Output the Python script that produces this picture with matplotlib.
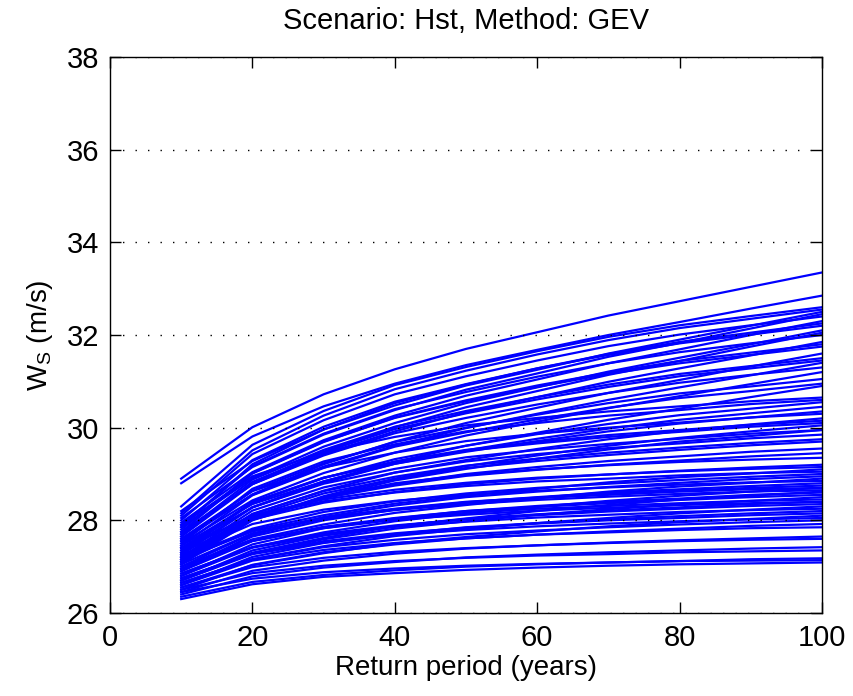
import matplotlib
matplotlib.use('Agg')
import matplotlib.pyplot as plt

plt.rcParams['font.family'] = ['Liberation Sans', 'DejaVu Sans']

return_periods = [10, 20, 30, 40, 50, 60, 70, 80, 90, 100]

# upper bundle of return level curves (end above ~30.9 m/s)
upper_curves = [
    [28.90, 30.01, 30.72, 31.26, 31.70, 32.06, 32.42, 32.73, 33.04, 33.35],
    [28.80, 29.81, 30.46, 30.95, 31.35, 31.68, 32.00, 32.28, 32.57, 32.85],
    [28.30, 29.63, 30.36, 30.92, 31.31, 31.65, 31.96, 32.21, 32.41, 32.60],
    [28.20, 29.28, 29.96, 30.48, 30.91, 31.25, 31.60, 31.90, 32.20, 32.50],
    [28.10, 29.43, 30.16, 30.72, 31.11, 31.45, 31.76, 32.01, 32.21, 32.40],
    [27.95, 29.04, 29.73, 30.26, 30.69, 31.04, 31.39, 31.69, 32.00, 32.30],
    [28.00, 29.30, 30.02, 30.56, 30.94, 31.28, 31.57, 31.82, 32.01, 32.20],
    [27.85, 28.91, 29.59, 30.10, 30.53, 30.87, 31.21, 31.51, 31.80, 32.10],
    [27.90, 29.17, 29.87, 30.40, 30.77, 31.10, 31.39, 31.63, 31.82, 32.00],
    [27.75, 28.78, 29.43, 29.92, 30.33, 30.66, 30.99, 31.28, 31.56, 31.85],
    [27.80, 29.02, 29.70, 30.21, 30.57, 30.88, 31.16, 31.39, 31.57, 31.75],
    [27.70, 28.88, 29.52, 30.02, 30.36, 30.66, 30.93, 31.16, 31.33, 31.50],
    [27.60, 28.55, 29.16, 29.61, 29.99, 30.30, 30.60, 30.87, 31.13, 31.40],
    [27.65, 28.78, 29.40, 29.88, 30.21, 30.50, 30.75, 30.97, 31.14, 31.30],
    [27.50, 28.43, 29.02, 29.46, 29.83, 30.13, 30.42, 30.68, 30.94, 31.20],
    [27.55, 28.64, 29.23, 29.69, 30.00, 30.28, 30.53, 30.74, 30.89, 31.05],
    [27.45, 28.54, 29.13, 29.59, 29.90, 30.18, 30.43, 30.64, 30.79, 30.95],
    [28.05, 29.15, 29.85, 30.38, 30.82, 31.17, 31.53, 31.83, 32.14, 32.45],
    [27.85, 29.21, 29.96, 30.53, 30.93, 31.28, 31.59, 31.85, 32.05, 32.25],
    [27.70, 28.79, 29.48, 30.01, 30.44, 30.79, 31.14, 31.44, 31.75, 32.05],
    [27.75, 29.01, 29.69, 30.22, 30.59, 30.91, 31.19, 31.44, 31.62, 31.80],
    [27.55, 28.56, 29.21, 29.70, 30.10, 30.43, 30.75, 31.03, 31.32, 31.60],
    [27.65, 28.83, 29.47, 29.97, 30.31, 30.61, 30.88, 31.11, 31.28, 31.45],
    [27.40, 28.28, 28.84, 29.26, 29.61, 29.89, 30.17, 30.41, 30.66, 30.90],
    [28.15, 29.51, 30.26, 30.83, 31.23, 31.58, 31.89, 32.15, 32.35, 32.55],
]

# middle bundle (end between ~29.3 and ~30.7 m/s)
middle_curves = [
    [27.90, 28.95, 29.47, 29.80, 30.05, 30.21, 30.35, 30.46, 30.57, 30.65],
    [27.40, 28.38, 28.91, 29.32, 29.61, 29.86, 30.08, 30.27, 30.41, 30.55],
    [27.30, 28.28, 28.81, 29.22, 29.51, 29.76, 29.98, 30.17, 30.31, 30.45],
    [27.60, 28.63, 29.14, 29.46, 29.71, 29.87, 30.00, 30.11, 30.22, 30.30],
    [27.20, 28.13, 28.64, 29.03, 29.30, 29.54, 29.75, 29.93, 30.07, 30.20],
    [27.35, 28.40, 28.92, 29.25, 29.50, 29.66, 29.80, 29.91, 30.02, 30.10],
    [27.10, 28.01, 28.52, 28.90, 29.17, 29.40, 29.61, 29.78, 29.92, 30.05],
    [27.25, 28.28, 28.79, 29.11, 29.36, 29.52, 29.65, 29.76, 29.87, 29.95],
    [27.20, 28.21, 28.71, 29.03, 29.27, 29.43, 29.56, 29.66, 29.77, 29.85],
    [27.15, 28.14, 28.63, 28.94, 29.18, 29.33, 29.46, 29.57, 29.67, 29.75],
    [27.10, 28.09, 28.58, 28.89, 29.13, 29.28, 29.41, 29.52, 29.62, 29.70],
    [27.05, 28.00, 28.48, 28.78, 29.00, 29.15, 29.28, 29.38, 29.48, 29.55],
    [27.20, 28.06, 28.48, 28.75, 28.96, 29.09, 29.20, 29.29, 29.38, 29.45],
    [27.05, 28.05, 28.50, 28.80, 28.98, 29.10, 29.19, 29.26, 29.31, 29.35],
    [27.45, 28.35, 28.84, 29.22, 29.48, 29.71, 29.92, 30.09, 30.22, 30.35],
    [27.50, 28.68, 29.27, 29.64, 29.92, 30.10, 30.26, 30.38, 30.51, 30.60],
    [27.15, 28.02, 28.49, 28.86, 29.11, 29.33, 29.53, 29.70, 29.82, 29.95],
    [27.30, 28.38, 28.92, 29.27, 29.52, 29.69, 29.84, 29.95, 30.06, 30.15],
]

# lower dense bundle (end between ~27.1 and ~29.2 m/s)
lower_curves = [
    [27.30, 28.02, 28.38, 28.61, 28.78, 28.90, 28.99, 29.07, 29.14, 29.20],
    [27.20, 27.79, 28.11, 28.36, 28.53, 28.68, 28.82, 28.93, 29.01, 29.10],
    [27.40, 28.09, 28.41, 28.60, 28.74, 28.84, 28.90, 28.97, 29.02, 29.05],
    [27.10, 27.82, 28.18, 28.41, 28.58, 28.70, 28.79, 28.87, 28.94, 29.00],
    [27.00, 27.59, 27.91, 28.16, 28.33, 28.48, 28.62, 28.73, 28.81, 28.90],
    [27.25, 27.92, 28.23, 28.42, 28.55, 28.64, 28.71, 28.77, 28.82, 28.85],
    [26.95, 27.65, 28.00, 28.23, 28.39, 28.50, 28.60, 28.67, 28.74, 28.80],
    [27.15, 27.76, 28.06, 28.25, 28.40, 28.49, 28.57, 28.64, 28.70, 28.75],
    [26.85, 27.42, 27.74, 27.98, 28.15, 28.29, 28.42, 28.53, 28.62, 28.70],
    [27.05, 27.72, 28.03, 28.22, 28.35, 28.44, 28.51, 28.57, 28.62, 28.65],
    [26.80, 27.48, 27.83, 28.04, 28.20, 28.31, 28.40, 28.47, 28.55, 28.60],
    [26.95, 27.56, 27.86, 28.05, 28.20, 28.29, 28.37, 28.44, 28.50, 28.55],
    [26.75, 27.29, 27.59, 27.82, 27.98, 28.12, 28.24, 28.34, 28.42, 28.50],
    [26.90, 27.55, 27.85, 28.03, 28.16, 28.25, 28.31, 28.37, 28.42, 28.45],
    [26.70, 27.35, 27.67, 27.87, 28.03, 28.13, 28.21, 28.28, 28.35, 28.40],
    [26.85, 27.42, 27.71, 27.89, 28.02, 28.11, 28.19, 28.25, 28.31, 28.35],
    [26.65, 27.16, 27.44, 27.66, 27.81, 27.94, 28.05, 28.15, 28.23, 28.30],
    [26.80, 27.41, 27.68, 27.86, 27.97, 28.06, 28.12, 28.18, 28.22, 28.25],
    [26.60, 27.21, 27.51, 27.70, 27.85, 27.94, 28.02, 28.09, 28.15, 28.20],
    [26.75, 27.28, 27.55, 27.72, 27.84, 27.93, 28.00, 28.05, 28.11, 28.15],
    [26.55, 27.03, 27.29, 27.50, 27.64, 27.76, 27.87, 27.96, 28.03, 28.10],
    [26.70, 27.27, 27.52, 27.69, 27.79, 27.87, 27.93, 27.98, 28.02, 28.05],
    [26.65, 27.16, 27.42, 27.58, 27.70, 27.78, 27.85, 27.91, 27.96, 28.00],
    [26.50, 27.04, 27.31, 27.48, 27.61, 27.69, 27.76, 27.82, 27.88, 27.92],
    [26.60, 27.13, 27.36, 27.51, 27.61, 27.69, 27.74, 27.79, 27.83, 27.85],
    [26.45, 26.91, 27.13, 27.28, 27.39, 27.46, 27.52, 27.57, 27.61, 27.65],
    [26.55, 26.99, 27.19, 27.32, 27.40, 27.46, 27.51, 27.55, 27.58, 27.60],
    [26.40, 26.79, 26.98, 27.10, 27.20, 27.26, 27.31, 27.35, 27.39, 27.42],
    [26.50, 26.86, 27.02, 27.12, 27.19, 27.24, 27.27, 27.31, 27.33, 27.35],
    [26.35, 26.67, 26.82, 26.92, 27.00, 27.05, 27.09, 27.12, 27.16, 27.18],
    [26.30, 26.62, 26.78, 26.86, 26.93, 26.98, 27.02, 27.05, 27.07, 27.09],
    [26.45, 26.74, 26.88, 26.96, 27.02, 27.06, 27.09, 27.12, 27.13, 27.14],
    [27.35, 28.11, 28.45, 28.66, 28.81, 28.92, 28.99, 29.06, 29.11, 29.15],
    [26.90, 27.68, 28.07, 28.32, 28.50, 28.62, 28.72, 28.81, 28.89, 28.95],
    [27.00, 27.71, 28.04, 28.24, 28.38, 28.48, 28.55, 28.62, 28.67, 28.70],
    [26.70, 27.30, 27.62, 27.87, 28.04, 28.20, 28.33, 28.45, 28.53, 28.62],
    [26.95, 27.56, 27.83, 28.01, 28.12, 28.21, 28.27, 28.33, 28.37, 28.40],
]

fig = plt.figure(figsize=(8.54, 6.96), dpi=100)
ax = fig.add_axes([0.1288, 0.1193, 0.8337, 0.7987])

for curve in upper_curves + middle_curves + lower_curves:
    ax.plot(return_periods, curve, color='#0000ff', linewidth=1.6)

ax.set_xlim(0, 100)
ax.set_ylim(26, 38)
ax.set_xticks([0, 20, 40, 60, 80, 100])
ax.set_yticks([26, 28, 30, 32, 34, 36, 38])
ax.yaxis.grid(True, linestyle=(0, (1, 8)), color='black', linewidth=1.0)
ax.set_axisbelow(False)
ax.tick_params(direction='in', length=8, width=1, labelsize=21,
               top=True, right=True, pad=8)
for s in ax.spines.values():
    s.set_linewidth(1)

ax.set_title('Scenario: Hst, Method: GEV', fontsize=21, pad=20)
ax.set_xlabel('Return period (years)', fontsize=20, labelpad=2)
ax.set_ylabel(r'W$_\mathregular{S}$ (m/s)', fontsize=20, labelpad=8)

fig.savefig('out.png', dpi=100)
